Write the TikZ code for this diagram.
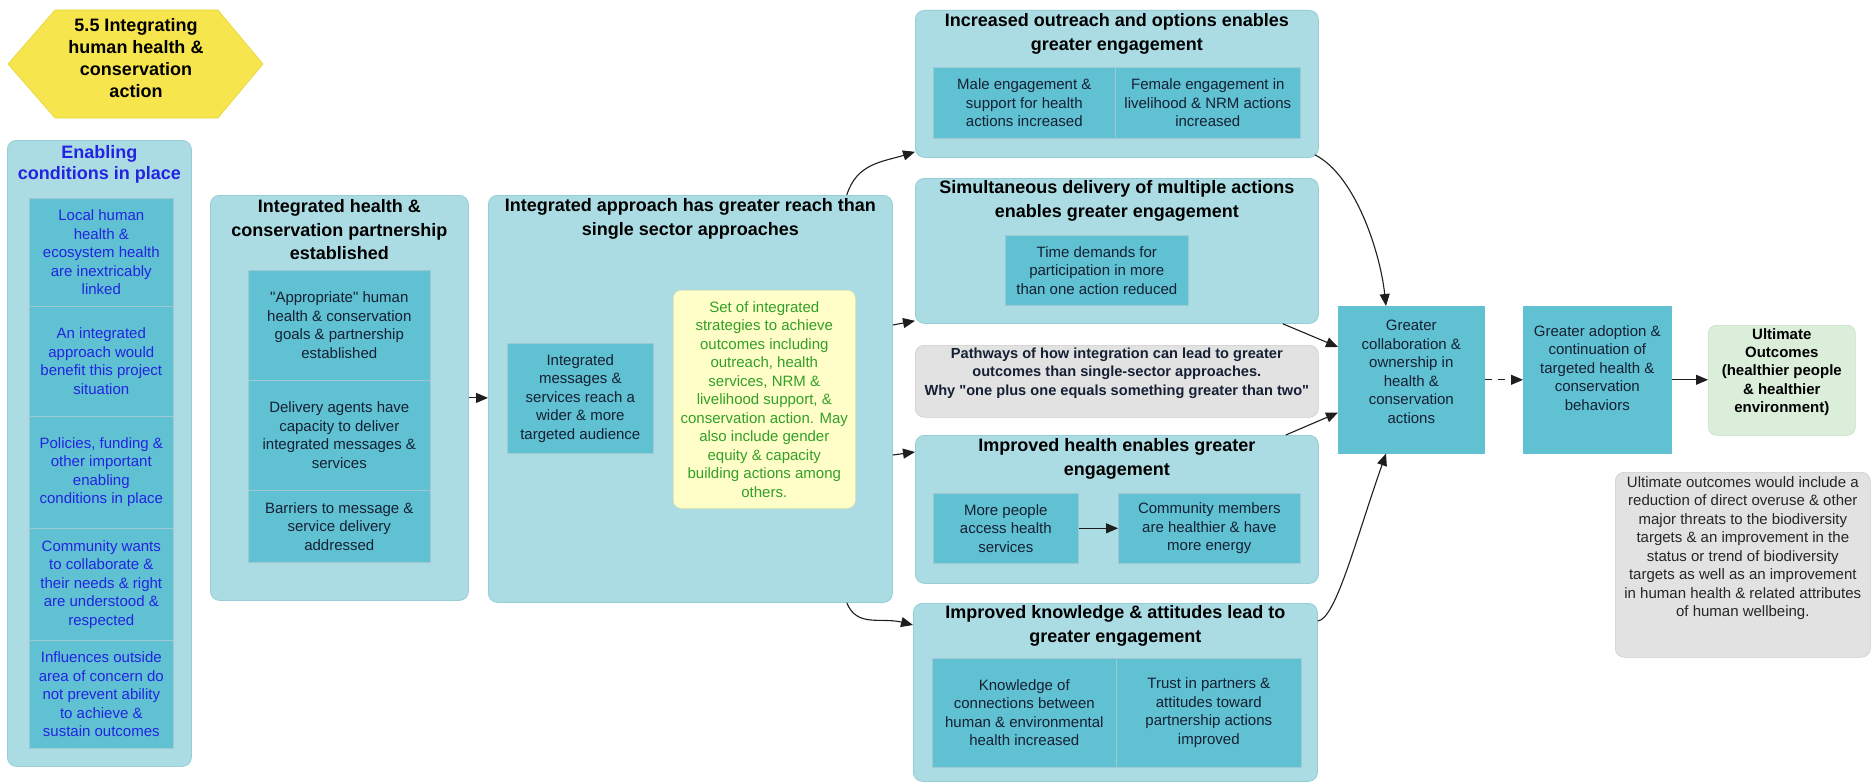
\documentclass[tikz,border=0pt]{standalone}
\usepackage{fontspec}
\setmainfont{Liberation Sans}
\usetikzlibrary{arrows.meta,calc}
\definecolor{outerfill}{RGB}{172,220,227}
\definecolor{outerdraw}{RGB}{150,206,215}
\definecolor{innerfill}{RGB}{95,193,210}
\definecolor{innerdraw}{RGB}{160,200,210}
\definecolor{boxtext}{RGB}{22,32,52}
\definecolor{hexfill}{RGB}{247,229,78}
\definecolor{hexdraw}{RGB}{232,212,60}
\definecolor{notefill}{RGB}{255,253,200}
\definecolor{notedraw}{RGB}{235,230,170}
\definecolor{greentxt}{RGB}{50,160,40}
\definecolor{grayfill}{RGB}{226,226,226}
\definecolor{graydraw}{RGB}{205,205,205}
\definecolor{ultfill}{RGB}{218,238,218}
\definecolor{ultdraw}{RGB}{200,225,200}
\definecolor{bluetxt}{RGB}{35,35,225}
\definecolor{arrowcol}{RGB}{30,30,30}
\newcommand\fbody{\fontsize{15}{18.5}\selectfont}
\newcommand\fttl{\fontsize{18}{23.5}\selectfont\bfseries}
\newcommand\fbold{\fontsize{15}{18.3}\selectfont\bfseries}
\newcommand\fpath{\fontsize{14.6}{18.5}\selectfont\bfseries}
\newcommand\sq{\XeTeXglyph\XeTeXcharglyph"0022\relax}
\begin{document}
\begin{tikzpicture}[x=1pt,y=-1pt,
  obox/.style={draw=outerdraw, fill=outerfill, rounded corners=9pt, line width=0.8pt, anchor=north west, inner sep=0pt},
  ibox/.style={draw=innerdraw, fill=innerfill, line width=0.6pt, text=boxtext, font=\fbody, align=center, anchor=north west, inner sep=2pt},
  ttl/.style={font=\fttl, text=black, align=center, inner sep=0pt},
  txt/.style={font=\fbody, text=boxtext, align=center, inner sep=0pt},
  notebox/.style={draw=notedraw, fill=notefill, rounded corners=8pt, line width=0.6pt, anchor=north west, font=\fbody, text=greentxt, align=center},
  graybox/.style={draw=graydraw, fill=grayfill, rounded corners=9pt, line width=0.6pt, anchor=north west},
  ultbox/.style={draw=ultdraw, fill=ultfill, rounded corners=8pt, line width=0.6pt, anchor=north west},
  arr/.style={-{Triangle[length=12pt,width=10pt]}, line width=1.1pt, draw=arrowcol},
]
\fill[white] (0,0) rectangle (1874,784);
\useasboundingbox (0,0) rectangle (1874,784);

% hexagon title
\path[draw=hexdraw, fill=hexfill, line width=0.6pt] (8,64) -- (55,10) -- (218,10) -- (263,64) -- (218,118) -- (55,118) -- cycle;
\node[font={\fontsize{18}{22}\selectfont\bfseries}, align=center, inner sep=0pt] (hexT) at (136,58) {5.5 Integrating\\human health \&\\conservation\\action};

% enabling conditions
\node[obox, minimum width=184pt, minimum height=626pt] (enab) at (7,140) {};
\node[ttl, text=bluetxt, font={\fontsize{18}{21}\selectfont\bfseries}] (enabT) at ($(enab.north)+(0,24)$) {Enabling\\conditions in place};
\node[ibox, text=bluetxt, minimum width=144pt, minimum height=108pt] (e1) at (29,198) {Local human\\health \&\\ecosystem health\\are inextricably\\linked};
\node[ibox, text=bluetxt, minimum width=144pt, minimum height=110pt] (e2) at (29,306) {An integrated\\approach would\\benefit this project\\situation};
\node[ibox, text=bluetxt, minimum width=144pt, minimum height=112pt] (e3) at (29,416) {Policies, funding \&\\other important\\enabling\\conditions in place};
\node[ibox, text=bluetxt, minimum width=144pt, minimum height=112pt] (e4) at (29,528) {Community wants\\to collaborate \&\\their needs \& right\\are understood \&\\respected};
\node[ibox, text=bluetxt, minimum width=144pt, minimum height=108pt] (e5) at (29,640) {Influences outside\\area of concern do\\not prevent ability\\to achieve \&\\sustain outcomes};

% partnership
\node[obox, minimum width=258pt, minimum height=405pt] (part) at (210,195) {};
\node[ttl] (partT) at ($(part.north)+(0,35)$) {Integrated health \&\\conservation partnership\\established};
\node[ibox, minimum width=182pt, minimum height=110pt] (p1) at (248,270) {\sq Appropriate\sq{} human\\health \& conservation\\goals \& partnership\\established};
\node[ibox, minimum width=182pt, minimum height=110pt] (p2) at (248,380) {Delivery agents have\\capacity to deliver\\integrated messages \&\\services};
\node[ibox, minimum width=182pt, minimum height=72pt] (p3) at (248,490) {Barriers to message \&\\service delivery\\addressed};

% integrated approach
\node[obox, minimum width=404pt, minimum height=407pt] (appr) at (488,195) {};
\node[ttl] (apprT) at ($(appr.north)+(0,24)$) {Integrated approach has greater reach than\\single sector approaches};
\node[ibox, minimum width=146pt, minimum height=110pt] (msgs) at (507,343) {Integrated\\messages \&\\services reach a\\wider \& more\\targeted audience};
\node[notebox, minimum width=182pt, minimum height=218pt] (strat) at (673,290) {Set of integrated\\strategies to achieve\\outcomes including\\outreach, health\\services, NRM \&\\livelihood support, \&\\conservation action. May\\also include gender\\equity \& capacity\\building actions among\\others.};

% outreach
\node[obox, minimum width=403pt, minimum height=147pt] (out) at (915,10) {};
\node[ttl] (outT) at ($(out.north)+(0,24)$) {Increased outreach and options enables\\greater engagement};
\node[ibox, minimum width=182pt, minimum height=71pt] (o1) at (933,67) {Male engagement \&\\support for health\\actions increased};
\node[ibox, minimum width=185pt, minimum height=71pt] (o2) at (1115,67) {Female engagement in\\livelihood \& NRM actions\\increased};

% simultaneous
\node[obox, minimum width=403pt, minimum height=145pt] (sim) at (915,178) {};
\node[ttl] (simT) at ($(sim.north)+(0,23)$) {Simultaneous delivery of multiple actions\\enables greater engagement};
\node[ibox, minimum width=183pt, minimum height=70pt] (s1) at (1005,235) {Time demands for\\participation in more\\than one action reduced};

% pathways
\node[graybox, minimum width=403pt, minimum height=72pt] (pathw) at (915,345) {};
\node[font=\fpath, text=boxtext, align=center, inner sep=0pt] (pathwT) at ($(pathw.north)+(0,28)$) {Pathways of how integration can lead to greater\\outcomes than single-sector approaches.\\Why \sq one plus one equals something greater than two\sq};

% improved health
\node[obox, minimum width=403pt, minimum height=148pt] (health) at (915,435) {};
\node[ttl] (healthT) at ($(health.north)+(0,24)$) {Improved health enables greater\\engagement};
\node[ibox, minimum width=145pt, minimum height=70pt] (h1) at (933,493) {More people\\access health\\services};
\node[ibox, minimum width=182pt, minimum height=70pt] (h2) at (1118,493) {Community members\\are healthier \& have\\more energy};

% knowledge
\node[obox, minimum width=404pt, minimum height=178pt] (know) at (913,603) {};
\node[ttl] (knowT) at ($(know.north)+(0,23)$) {Improved knowledge \& attitudes lead to\\greater engagement};
\node[ibox, minimum width=184pt, minimum height=109pt] (k1) at (932,658) {Knowledge of\\connections between\\human \& environmental\\health increased};
\node[ibox, minimum width=185pt, minimum height=109pt] (k2) at (1116,658) {Trust in partners \&\\attitudes toward\\partnership actions\\improved};

% right column
\node[ibox, draw=innerfill, minimum width=146pt, minimum height=147pt] (collab) at (1338,306) {};
\node[txt] (collabT) at ($(collab.north)+(0,66)$) {Greater\\collaboration \&\\ownership in\\health \&\\conservation\\actions};
\node[ibox, draw=innerfill, minimum width=148pt, minimum height=147pt] (adopt) at (1523,306) {};
\node[txt] (adoptT) at ($(adopt.north)+(0,62)$) {Greater adoption \&\\continuation of\\targeted health \&\\conservation\\behaviors};
\node[ultbox, minimum width=147pt, minimum height=110pt] (ult) at (1708,325) {};
\node[txt, font=\fbold, text=black] (ultT) at ($(ult.north)+(0,47)$) {Ultimate\\Outcomes\\(healthier people\\\& healthier\\environment)};
\node[graybox, minimum width=255pt, minimum height=185pt] (note) at (1615,472) {};
\node[txt, text=black!85] (noteT) at ($(note.north)+(0,76)$) {Ultimate outcomes would include a\\reduction of direct overuse \& other\\major threats to the biodiversity\\targets \& an improvement in the\\status or trend of biodiversity\\targets as well as an improvement\\in human health \& related attributes\\of human wellbeing.};

% connectors
\draw[arr] (part.east) -- (part.east -| appr.west);
\draw[arr] ($(appr.north east)+(-46,0)$) .. controls +(10,-32) and +(-32,10) .. ($(out.south west)+(0,-6)$);
\draw[arr] ($(appr.north east)+(0,130)$) -- ($(sim.south west)+(0,-3)$);
\draw[arr] ($(appr.north east)+(0,260)$) -- ($(health.north west)+(0,17)$);
\draw[arr] ($(appr.south east)+(-46,0)$) .. controls +(10,25) and +(-32,-8) .. ($(know.north west)+(0,22)$);
\draw[arr] (h1.east) -- (h2.west);
\draw[arr] ($(out.south east)+(-4,-3)$) .. controls +(40,20) and +(-6,-55) .. ($(collab.north west)+(48,0)$);
\draw[arr] ($(sim.south east)+(-36,0)$) -- ($(collab.north west)+(0,41)$);
\draw[arr] ($(health.north east)+(-33,0)$) -- ($(collab.south west)+(0,-41)$);
\draw[arr] ($(know.north east)+(0,18)$) .. controls +(18,-2) and +(-30,85) .. ($(collab.south west)+(48,0)$);
\draw[arr, dash pattern=on 7pt off 6pt] (collab.east) -- (adopt.west);
\draw[arr] (adopt.east) -- (adopt.east -| ult.west);
\end{tikzpicture}
\end{document}
